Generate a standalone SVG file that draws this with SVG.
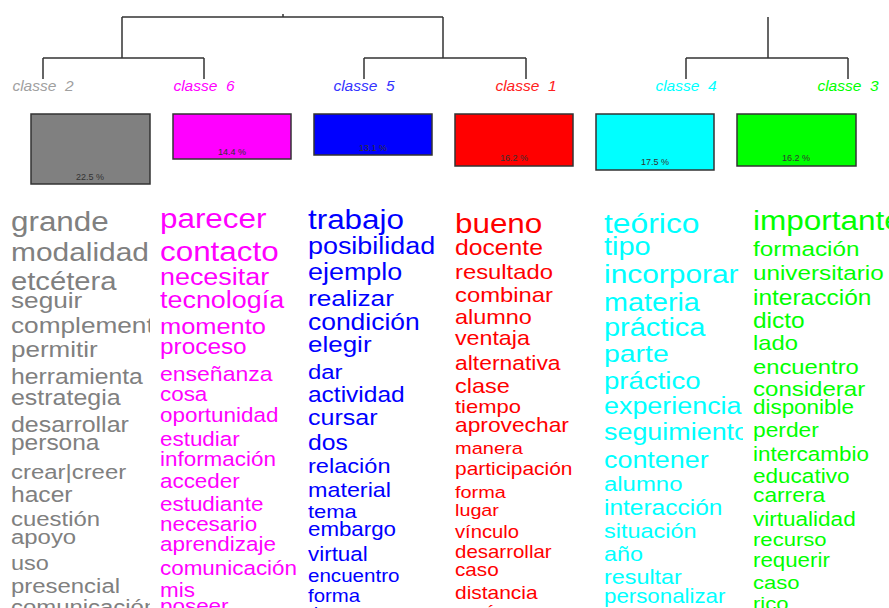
<svg xmlns="http://www.w3.org/2000/svg" width="889" height="608" viewBox="0 0 889 608">
<style>
.lbl{font-family:"Liberation Sans",Arial,sans-serif;font-style:italic;font-size:15.5px;text-anchor:middle;white-space:pre}
.box{stroke:#333;stroke-width:1.5}
.pct{font-family:"Liberation Sans",Arial,sans-serif;font-size:9px;fill:#333;text-anchor:middle}
.w{font-family:"Liberation Sans",Arial,sans-serif}
.ln{fill:none;stroke:#333;stroke-width:1.5}
</style>
<defs>
<clipPath id="c1"><rect x="0" y="195" width="150" height="413"/></clipPath>
<clipPath id="c2"><rect x="155" y="195" width="147" height="413"/></clipPath>
<clipPath id="c3"><rect x="303" y="195" width="147" height="413"/></clipPath>
<clipPath id="c4"><rect x="450" y="195" width="148" height="413"/></clipPath>
<clipPath id="c5"><rect x="598" y="195" width="145" height="413"/></clipPath>
<clipPath id="c6"><rect x="748" y="195" width="141" height="413"/></clipPath>
</defs>
<rect width="889" height="608" fill="#fff"/>
<g id="connectors" class="ln">
<path d="M122,17H443M283,14V17M122,17V58M443,17V58M768,17V58"/>
<path d="M43,58H204M364,58H526M686,58H848"/>
<path d="M43,58V79M204,58V79M364,58V79M526,58V79M686,58V79M848,58V79"/>
</g>
<g id="classe2">
<text class="lbl" x="43" y="91" fill="#a0a0a0">classe  2</text>
<rect class="box" x="31" y="114" width="119" height="70" fill="#808080"/>
<text class="pct" x="90" y="180">22.5 %</text>
<g clip-path="url(#c1)"><g class="w" fill="#808080" transform="translate(11,0) scale(1.15,1)">
<text y="231" font-size="27.3">grande</text>
<text y="261" font-size="26">modalidad</text>
<text y="290" font-size="25.4">etcétera</text>
<text y="308" font-size="22.8">seguir</text>
<text y="333" font-size="22.8">complementar</text>
<text y="357" font-size="22.6">permitir</text>
<text y="384" font-size="21.5">herramienta</text>
<text y="405" font-size="21.7">estrategia</text>
<text y="432" font-size="21.7">desarrollar</text>
<text y="450" font-size="21.3">persona</text>
<text y="479" font-size="20.8">crear|creer</text>
<text y="502" font-size="21.4">hacer</text>
<text y="526" font-size="20.8">cuestión</text>
<text y="544" font-size="20.8">apoyo</text>
<text y="570" font-size="20.4">uso</text>
<text y="593" font-size="20.8">presencial</text>
<text y="614" font-size="20.8">comunicación</text>
</g></g>
</g>
<g id="classe6">
<text class="lbl" x="204" y="91" fill="#ff00ff">classe  6</text>
<rect class="box" x="173" y="114" width="118" height="45" fill="#ff00ff"/>
<text class="pct" x="232" y="155">14.4 %</text>
<g clip-path="url(#c2)"><g class="w" fill="#ff00ff" transform="translate(160,0) scale(1.15,1)">
<text y="228" font-size="27.3">parecer</text>
<text y="261" font-size="27.3">contacto</text>
<text y="285" font-size="23.4">necesitar</text>
<text y="308" font-size="23.4">tecnología</text>
<text y="334" font-size="22.1">momento</text>
<text y="354" font-size="21.2">proceso</text>
<text y="381" font-size="20">enseñanza</text>
<text y="401" font-size="19.5">cosa</text>
<text y="422" font-size="19.5">oportunidad</text>
<text y="446" font-size="19.5">estudiar</text>
<text y="466" font-size="19.5">información</text>
<text y="488" font-size="19.5">acceder</text>
<text y="511" font-size="19.5">estudiante</text>
<text y="531" font-size="19.5">necesario</text>
<text y="551" font-size="19.5">aprendizaje</text>
<text y="575" font-size="19.5">comunicación</text>
<text y="597" font-size="19.5">mis</text>
<text y="613" font-size="19.5">poseer</text>
</g></g>
</g>
<g id="classe5">
<text class="lbl" x="364" y="91" fill="#3333ff">classe  5</text>
<rect class="box" x="314" y="114" width="118" height="41" fill="#0000ff"/>
<text class="pct" x="373" y="151">13.1 %</text>
<g clip-path="url(#c3)"><g class="w" fill="#0000ff" transform="translate(308,0) scale(1.15,1)">
<text y="229" font-size="27.3">trabajo</text>
<text y="254" font-size="23.4">posibilidad</text>
<text y="280" font-size="23.4">ejemplo</text>
<text y="306" font-size="22.8">realizar</text>
<text y="330" font-size="23">condición</text>
<text y="352" font-size="22.6">elegir</text>
<text y="379" font-size="20.8">dar</text>
<text y="402" font-size="21.3">actividad</text>
<text y="425" font-size="21.8">cursar</text>
<text y="450" font-size="21.5">dos</text>
<text y="473" font-size="20.5">relación</text>
<text y="497" font-size="20.3">material</text>
<text y="518" font-size="19.1">tema</text>
<text y="536" font-size="19.4">embargo</text>
<text y="561" font-size="19.5">virtual</text>
<text y="582" font-size="17.9">encuentro</text>
<text y="602" font-size="17.7">forma</text>
<text y="620" font-size="17.7">tiempo</text>
</g></g>
</g>
<g id="classe1">
<text class="lbl" x="526" y="91" fill="#ff2020">classe  1</text>
<rect class="box" x="455" y="114" width="118" height="52" fill="#ff0000"/>
<text class="pct" x="514" y="161">16.2 %</text>
<g clip-path="url(#c4)"><g class="w" fill="#ff0000" transform="translate(455,0) scale(1.15,1)">
<text y="233" font-size="27.3">bueno</text>
<text y="255" font-size="21.5">docente</text>
<text y="279" font-size="20.7">resultado</text>
<text y="302" font-size="20.7">combinar</text>
<text y="324" font-size="20.4">alumno</text>
<text y="345" font-size="20.2">ventaja</text>
<text y="370" font-size="19.9">alternativa</text>
<text y="393" font-size="20.4">clase</text>
<text y="413" font-size="19.1">tiempo</text>
<text y="432" font-size="19.8">aprovechar</text>
<text y="454" font-size="17.4">manera</text>
<text y="475" font-size="18.2">participación</text>
<text y="498" font-size="17.3">forma</text>
<text y="516" font-size="17.2">lugar</text>
<text y="538" font-size="17.6">vínculo</text>
<text y="558" font-size="17.8">desarrollar</text>
<text y="576" font-size="18">caso</text>
<text y="599" font-size="18.2">distancia</text>
<text y="618" font-size="18.2">razón</text>
</g></g>
</g>
<g id="classe4">
<text class="lbl" x="686" y="91" fill="#00ffff">classe  4</text>
<rect class="box" x="596" y="114" width="118" height="56" fill="#00ffff"/>
<text class="pct" x="655" y="165">17.5 %</text>
<g clip-path="url(#c5)"><g class="w" fill="#00ffff" transform="translate(604,0) scale(1.15,1)">
<text y="233" font-size="27.7">teórico</text>
<text y="255" font-size="25.2">tipo</text>
<text y="283" font-size="26">incorporar</text>
<text y="311" font-size="25">materia</text>
<text y="336" font-size="25.2">práctica</text>
<text y="362" font-size="24.7">parte</text>
<text y="389" font-size="24">práctico</text>
<text y="414" font-size="23.4">experiencia</text>
<text y="440" font-size="23.4">seguimiento</text>
<text y="468" font-size="23.4">contener</text>
<text y="491" font-size="20.8">alumno</text>
<text y="515" font-size="21.3">interacción</text>
<text y="538" font-size="20.4">situación</text>
<text y="561" font-size="20.3">año</text>
<text y="584" font-size="20.3">resultar</text>
<text y="603" font-size="19.4">personalizar</text>
</g></g>
</g>
<g id="classe3">
<text class="lbl" x="848" y="91" fill="#00ff00">classe  3</text>
<rect class="box" x="737" y="114" width="119" height="52" fill="#00ff00"/>
<text class="pct" x="796" y="161">16.2 %</text>
<g clip-path="url(#c6)"><g class="w" fill="#00ff00" transform="translate(753,0) scale(1.15,1)">
<text y="230" font-size="27.4">importante</text>
<text y="256" font-size="21.1">formación</text>
<text y="280" font-size="21.1">universitario</text>
<text y="305" font-size="21.3">interacción</text>
<text y="328" font-size="21.3">dicto</text>
<text y="350" font-size="20.7">lado</text>
<text y="374" font-size="20.7">encuentro</text>
<text y="396" font-size="20.9">considerar</text>
<text y="414" font-size="19.5">disponible</text>
<text y="437" font-size="19.8">perder</text>
<text y="461" font-size="19.5">intercambio</text>
<text y="483" font-size="19.6">educativo</text>
<text y="502" font-size="19.8">carrera</text>
<text y="526" font-size="19.6">virtualidad</text>
<text y="546" font-size="19.2">recurso</text>
<text y="567" font-size="19.4">requerir</text>
<text y="589" font-size="19.2">caso</text>
<text y="610" font-size="19.2">rico</text>
</g></g>
</g>
</svg>
